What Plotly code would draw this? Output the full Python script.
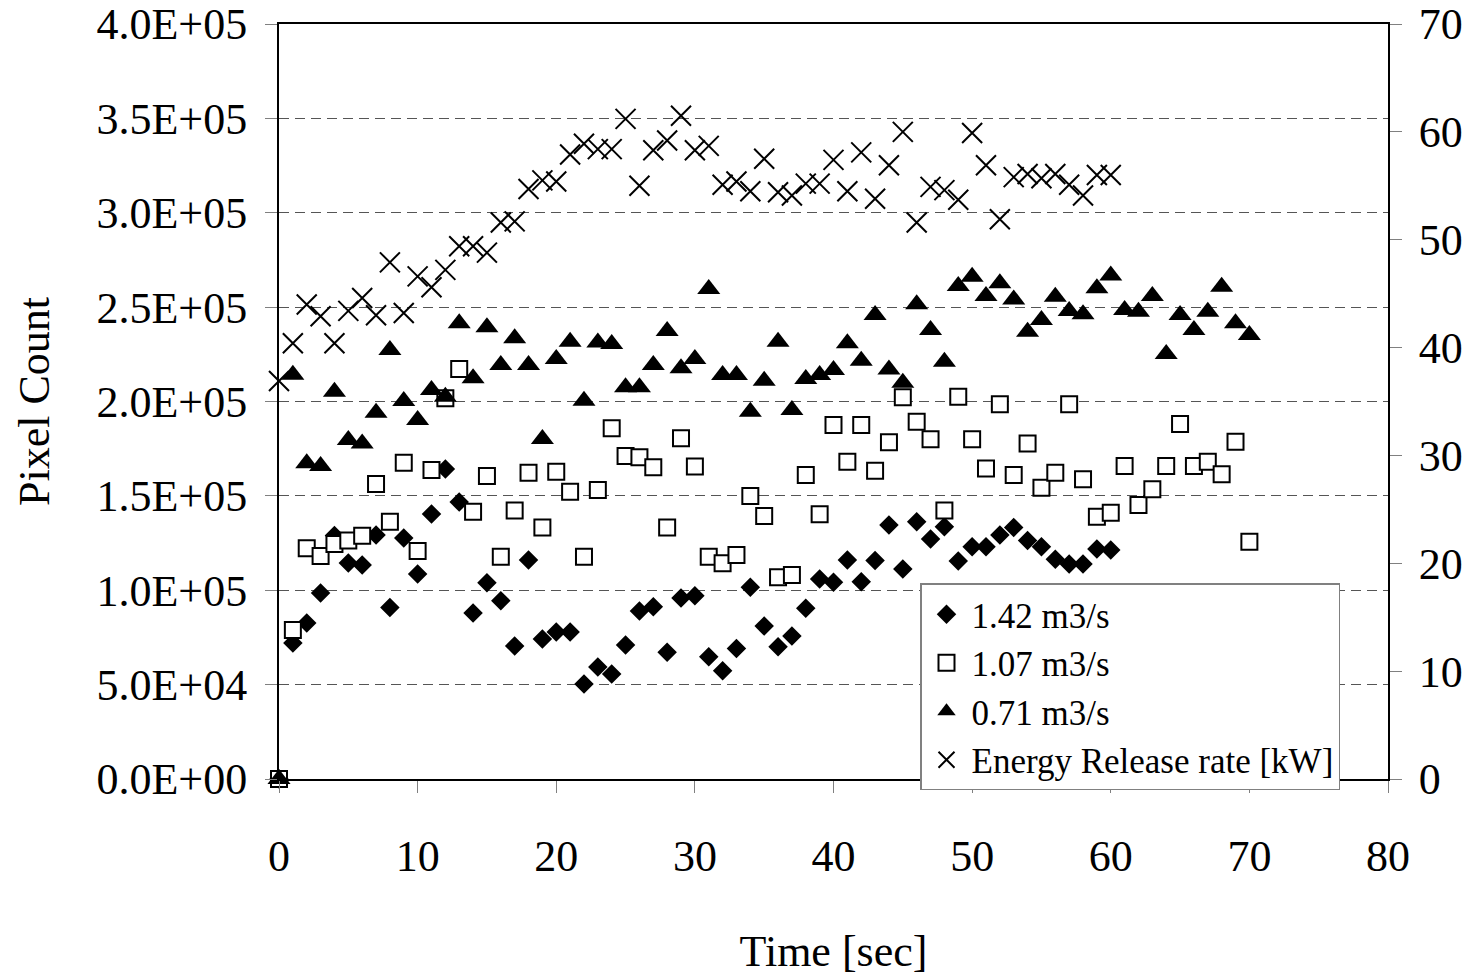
import plotly.graph_objects as go

# ---------------- data ----------------
time_142 = list(range(0, 61))
pixels_142 = [0, 72000, 82600, 98500, 129000, 114400, 113400, 129300, 90800, 127700,
              108600, 140400, 164200, 146700, 87900, 104000, 94500, 70500, 116000, 74200,
              77900, 77900, 50300, 59300, 55600, 71000, 89000, 91300, 67100, 95900,
              97100, 64800, 57400, 69200, 101600, 81000, 70100, 75800, 90400, 106000,
              104200, 116000, 104500, 115700, 134600, 111300, 136300, 127100, 133700, 115500,
              123100, 123100, 129300, 133300, 126300, 123100, 116400, 113900, 113900, 121900,
              121300]

time_107 = list(range(0, 71))
pixels_107 = [0, 78900, 122200, 118100, 124500, 126300, 128900, 156300, 136300, 167600,
              120800, 163700, 201700, 217200, 141600, 160500, 117800, 142200, 162300, 133300,
              162800, 152200, 117800, 153100, 185800, 171100, 170400, 165100, 133200, 180500,
              165500, 117800, 114300, 118700, 149900, 139300, 106900, 108100, 161100, 140200,
              187500, 168100, 187500, 163300, 178400, 202200, 189300, 180000, 142200, 202500,
              180000, 164500, 198500, 161100, 177800, 154300, 162300, 198500, 158800, 139000,
              141100, 165800, 145200, 153500, 165800, 188100, 165800, 168100, 161400, 178700,
              125700]

time_071 = list(range(0, 71))
pixels_071 = [0, 214200, 167300, 165800, 205200, 179600, 177800, 194100, 227300, 200300,
              190200, 206100, 202500, 241500, 212300, 239300, 219300, 233500, 219300, 180100,
              222500, 231700, 200400, 231200, 230500, 207500, 207500, 219300, 237400, 217600,
              222500, 259600, 214000, 214000, 194600, 211000, 231700, 195500, 211900, 214000,
              216700, 230800, 221600, 245800, 217000, 210000, 251500, 237900, 221100, 261200,
              266100, 255900, 262600, 254100, 237000, 243200, 255500, 247900, 246200, 260000,
              266700, 248500, 247600, 255900, 225200, 245800, 237900, 247600, 260800, 241500,
              235200]

time_energy = list(range(0, 61))
energy_kw = [36.9, 40.4, 44.0, 42.9, 40.4, 43.4, 44.6, 43.0, 47.9, 43.2,
             46.6, 45.6, 47.2, 49.4, 49.4, 48.8, 51.6, 51.7, 54.7, 55.5,
             55.4, 57.9, 58.9, 58.4, 58.4, 61.2, 55.0, 58.3, 59.2, 61.5,
             58.3, 58.7, 55.1, 55.4, 54.5, 57.5, 54.4, 54.1, 55.2, 55.2,
             57.4, 54.5, 58.1, 53.8, 56.9, 60.0, 51.6, 54.9, 54.6, 53.7,
             59.9, 56.9, 51.9, 55.8, 56.1, 55.7, 56.1, 55.1, 54.1, 56.0,
             56.0]

series_names = ["1.42 m3/s", "1.07 m3/s", "0.71 m3/s", "Energy Release rate [kW]"]
y_tick_vals = [0, 50000, 100000, 150000, 200000, 250000, 300000, 350000, 400000]
y_tick_text = ["0.0E+00", "5.0E+04", "1.0E+05", "1.5E+05", "2.0E+05",
               "2.5E+05", "3.0E+05", "3.5E+05", "4.0E+05"]
x_tick_vals = [0, 10, 20, 30, 40, 50, 60, 70, 80]
y2_tick_vals = [0, 10, 20, 30, 40, 50, 60, 70]

# ---------------- figure ----------------
FONT = "Liberation Serif"
fig = go.Figure()

fig.add_trace(go.Scatter(
    x=time_142, y=pixels_142, mode="markers", name=series_names[0],
    marker=dict(symbol="diamond", size=15, color="black", line=dict(width=0)),
    cliponaxis=False))
fig.add_trace(go.Scatter(
    x=time_107, y=pixels_107, mode="markers", name=series_names[1],
    marker=dict(symbol="square", size=16, color="white",
                line=dict(width=2, color="black")),
    cliponaxis=False))
fig.add_trace(go.Scatter(
    x=time_071, y=pixels_071, mode="markers", name=series_names[2],
    marker=dict(symbol="triangle-up", size=20, color="black", line=dict(width=0)),
    cliponaxis=False))
fig.add_trace(go.Scatter(
    x=time_energy, y=energy_kw, mode="markers", name=series_names[3], yaxis="y2",
    marker=dict(symbol="x-thin", size=20, color="black",
                line=dict(width=2, color="black")),
    cliponaxis=False))

tickfont = dict(family=FONT, size=44, color="black")

fig.update_layout(
    template="none",
    width=1471, height=980,
    margin=dict(l=279, r=83, t=24, b=201, pad=0),
    paper_bgcolor="white", plot_bgcolor="white",
    font=dict(family=FONT, color="black"),
    showlegend=True,
    legend=dict(
        x=0.578, y=0.259, xanchor="left", yanchor="top",
        bgcolor="white", bordercolor="#808080", borderwidth=1.5,
        font=dict(family=FONT, size=35, color="black"),
        tracegroupgap=0, itemwidth=40,
    ),
    xaxis=dict(
        range=[0, 80], tickvals=x_tick_vals, showgrid=False, zeroline=False,
        showline=True, linecolor="black", linewidth=2, mirror=True,
        ticks="outside", ticklen=12, tickcolor="#808080", tickwidth=1,
        tickfont=tickfont, ticklabelstandoff=25, automargin=False,
        title=dict(text="Time [sec]", font=dict(family=FONT, size=44, color="black"),
                   standoff=55),
    ),
    yaxis=dict(
        range=[0, 400000], tickvals=y_tick_vals, ticktext=y_tick_text,
        showgrid=True, gridcolor="#555555", gridwidth=1, griddash="10px,6px",
        zeroline=False, showline=True, linecolor="black", linewidth=2,
        ticks="outside", ticklen=12, tickcolor="#808080", tickwidth=1,
        tickfont=tickfont, ticklabelstandoff=9, automargin=False,
        title=dict(text="Pixel Count", font=dict(family=FONT, size=44, color="black"),
                   standoff=33),
    ),
    yaxis2=dict(
        range=[0, 70], tickvals=y2_tick_vals, overlaying="y", side="right",
        anchor="x", showgrid=False, zeroline=False,
        showline=True, linecolor="black", linewidth=2,
        ticks="outside", ticklen=12, tickcolor="#808080", tickwidth=1,
        tickfont=tickfont, ticklabelstandoff=8, automargin=False,
    ),
    yaxis3=dict(
        range=[0, 70], tickvals=y2_tick_vals, overlaying="y", side="right",
        anchor="x", showgrid=False, zeroline=False, showline=False,
        ticks="inside", ticklen=12, tickcolor="#808080", tickwidth=1,
        showticklabels=False, automargin=False,
    ),
)

fig.write_html("out.html")
